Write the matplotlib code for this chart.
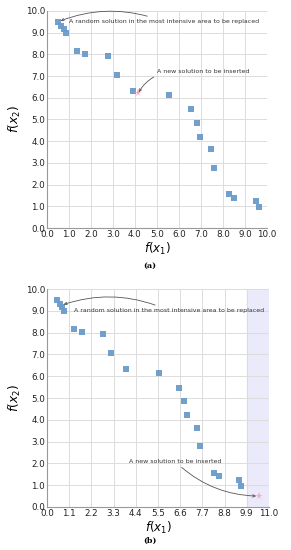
import matplotlib
matplotlib.use("Agg")
import matplotlib.pyplot as plt
import numpy as np

# ---- data ----
f1 = [0.50, 0.64, 0.76, 0.86, 1.36, 1.71, 2.76, 3.17, 3.92, 5.56, 6.56, 6.80,
      6.95, 7.44, 7.58, 8.26, 8.52, 9.51, 9.62]
f2 = [9.50, 9.30, 9.17, 9.00, 8.15, 8.02, 7.94, 7.07, 6.33, 6.13, 5.47, 4.84,
      4.21, 3.64, 2.78, 1.57, 1.40, 1.26, 0.95]
new_a = (4.14, 6.20)
new_b = (10.50, 0.50)
yticks = [0.0, 1.0, 2.0, 3.0, 4.0, 5.0, 6.0, 7.0, 8.0, 9.0, 10.0]
xticks_a = [0.0, 1.0, 2.0, 3.0, 4.0, 5.0, 6.0, 7.0, 8.0, 9.0, 10.0]
xticks_b = [0.0, 1.1, 2.2, 3.3, 4.4, 5.5, 6.6, 7.7, 8.8, 9.9, 11.0]
shade_b = (9.9, 11.0)
txt_replace = "A random solution in the most intensive area to be replaced"
txt_insert = "A new solution to be inserted"

MARK = '#6a9bcb'
STAR = '#f4a7c0'

fig = plt.figure(figsize=(2.91, 5.5), dpi=100)
ax1 = fig.add_axes([47/291, 1-228/550, 220/291, 217/550])
ax2 = fig.add_axes([47/291, 1-507/550, 222/291, 218/550])


def style(ax, xt):
    ax.set_xlim(xt[0], xt[-1])
    ax.set_ylim(yticks[0], yticks[-1])
    ax.set_xticks(xt)
    ax.set_xticklabels([f"{v:.1f}" for v in xt])
    ax.set_yticks(yticks)
    ax.set_yticklabels([f"{v:.1f}" for v in yticks])
    ax.tick_params(length=0, labelsize=6.3, pad=1.5, colors='#222222')
    ax.grid(True, color='#dcdcdc', linewidth=0.7)
    ax.set_axisbelow(True)
    for s in ['top', 'right']:
        ax.spines[s].set_visible(False)
    for s in ['left', 'bottom']:
        ax.spines[s].set_color('#999999')
        ax.spines[s].set_linewidth(0.8)
    ax.set_xlabel(r'$f(x_1)$', fontsize=8.5, labelpad=1)
    ax.set_ylabel(r'$f(x_2)$', fontsize=8.8, labelpad=2)


# ---- (a) ----
style(ax1, xticks_a)
ax1.plot(f1, f2, 's', color=MARK, markersize=4.0, alpha=0.95, markeredgewidth=0)
ax1.plot(*new_a, '*', color=STAR, markersize=5.5, markeredgewidth=0)
ax1.annotate(txt_replace, xy=(f1[0], f2[0]), xytext=(1.0, 9.5), fontsize=4.5,
             color='#333333', va='center', ha='left',
             arrowprops=dict(arrowstyle='->', color='#555555', lw=0.6,
                             connectionstyle='arc3,rad=0.2', shrinkA=1, shrinkB=2))
ax1.annotate(txt_insert, xy=new_a, xytext=(5.0, 7.23), fontsize=4.5,
             color='#333333', va='center', ha='left',
             arrowprops=dict(arrowstyle='->', color='#555555', lw=0.6,
                             relpos=(0.05, 0.0),
                             connectionstyle='arc3,rad=0.2', shrinkA=1, shrinkB=1))
fig.text(150/291, 1-266/550, '(a)', ha='center', va='center',
         family='DejaVu Serif', fontsize=5.8, fontweight='bold')

# ---- (b) ----
style(ax2, xticks_b)
ax2.axvspan(*shade_b, color='#eaeafb', zorder=0)
ax2.plot(f1, f2, 's', color=MARK, markersize=4.0, alpha=0.95, markeredgewidth=0)
ax2.plot(*new_b, '*', color=STAR, markersize=5.5, markeredgewidth=0)
ax2.annotate(txt_replace, xy=(f1[2], f2[2] + 0.1), xytext=(1.34, 9.0), fontsize=4.5,
             color='#333333', va='center', ha='left',
             arrowprops=dict(arrowstyle='->', color='#555555', lw=0.6,
                             connectionstyle='arc3,rad=0.2', shrinkA=1, shrinkB=1))
ax2.annotate(txt_insert, xy=new_b, xytext=(4.05, 2.1), fontsize=4.5,
             color='#333333', va='center', ha='left',
             arrowprops=dict(arrowstyle='->', color='#555555', lw=0.6,
                             connectionstyle='arc3,rad=0.2', shrinkA=1, shrinkB=2))
fig.text(150/291, 1-541/550, '(b)', ha='center', va='center',
         family='DejaVu Serif', fontsize=5.8, fontweight='bold')

fig.savefig('out.png', dpi=100)
